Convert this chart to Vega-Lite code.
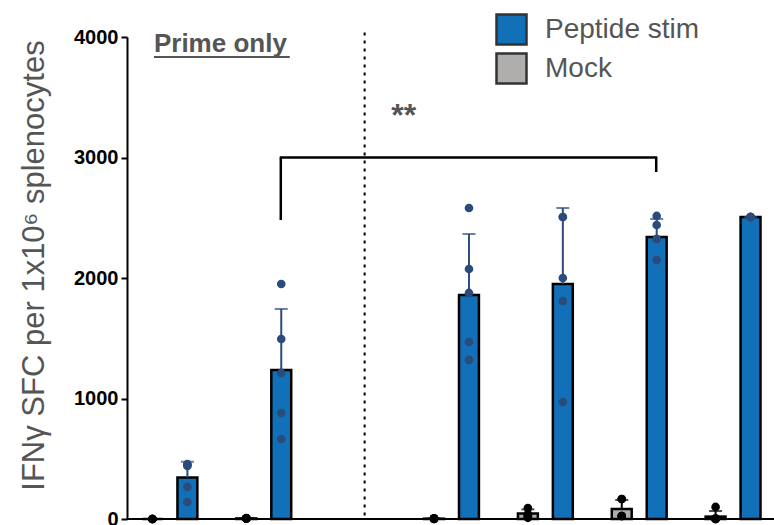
{
  "$schema": "https://vega.github.io/schema/vega-lite/v6.json",
  "width": 647,
  "height": 482,
  "autosize": {"type": "none"},
  "padding": {"left": 127, "top": 37, "right": 0, "bottom": 6},
  "config": {"view": {"stroke": null}, "font": "Liberation Sans"},
  "datasets": {
    "bars": [
      {"group": "G1", "stim": "Mock", "mean": 0, "hi": 0},
      {"group": "G1", "stim": "Peptide stim", "mean": 345, "hi": 475},
      {"group": "G2", "stim": "Mock", "mean": 5, "hi": 8},
      {"group": "G2", "stim": "Peptide stim", "mean": 1236, "hi": 1743},
      {"group": "G3", "stim": "Mock", "mean": 3, "hi": 6},
      {"group": "G3", "stim": "Peptide stim", "mean": 1859, "hi": 2365},
      {"group": "G4", "stim": "Mock", "mean": 45, "hi": 80},
      {"group": "G4", "stim": "Peptide stim", "mean": 1950, "hi": 2581},
      {"group": "G5", "stim": "Mock", "mean": 83, "hi": 158},
      {"group": "G5", "stim": "Peptide stim", "mean": 2340, "hi": 2490},
      {"group": "G6", "stim": "Mock", "mean": 20, "hi": 66},
      {"group": "G6", "stim": "Peptide stim", "mean": 2506, "hi": 2506}
    ],
    "points": [
      {"group": "G1", "stim": "Mock", "value": 0},
      {"group": "G1", "stim": "Mock", "value": 0},
      {"group": "G1", "stim": "Mock", "value": 0},
      {"group": "G1", "stim": "Mock", "value": 0},
      {"group": "G1", "stim": "Mock", "value": 0},
      {"group": "G1", "stim": "Peptide stim", "value": 455},
      {"group": "G1", "stim": "Peptide stim", "value": 450},
      {"group": "G1", "stim": "Peptide stim", "value": 440},
      {"group": "G1", "stim": "Peptide stim", "value": 266},
      {"group": "G1", "stim": "Peptide stim", "value": 141},
      {"group": "G2", "stim": "Mock", "value": 5},
      {"group": "G2", "stim": "Mock", "value": 5},
      {"group": "G2", "stim": "Mock", "value": 8},
      {"group": "G2", "stim": "Mock", "value": 3},
      {"group": "G2", "stim": "Mock", "value": 4},
      {"group": "G2", "stim": "Peptide stim", "value": 1950},
      {"group": "G2", "stim": "Peptide stim", "value": 1494},
      {"group": "G2", "stim": "Peptide stim", "value": 1212},
      {"group": "G2", "stim": "Peptide stim", "value": 880},
      {"group": "G2", "stim": "Peptide stim", "value": 664},
      {"group": "G3", "stim": "Mock", "value": 0},
      {"group": "G3", "stim": "Mock", "value": 5},
      {"group": "G3", "stim": "Mock", "value": 5},
      {"group": "G3", "stim": "Mock", "value": 0},
      {"group": "G3", "stim": "Mock", "value": 3},
      {"group": "G3", "stim": "Peptide stim", "value": 2581},
      {"group": "G3", "stim": "Peptide stim", "value": 2075},
      {"group": "G3", "stim": "Peptide stim", "value": 1876},
      {"group": "G3", "stim": "Peptide stim", "value": 1469},
      {"group": "G3", "stim": "Peptide stim", "value": 1320},
      {"group": "G4", "stim": "Mock", "value": 91},
      {"group": "G4", "stim": "Mock", "value": 40},
      {"group": "G4", "stim": "Mock", "value": 30},
      {"group": "G4", "stim": "Mock", "value": 20},
      {"group": "G4", "stim": "Mock", "value": 10},
      {"group": "G4", "stim": "Peptide stim", "value": 2506},
      {"group": "G4", "stim": "Peptide stim", "value": 2506},
      {"group": "G4", "stim": "Peptide stim", "value": 2000},
      {"group": "G4", "stim": "Peptide stim", "value": 1809},
      {"group": "G4", "stim": "Peptide stim", "value": 971},
      {"group": "G5", "stim": "Mock", "value": 166},
      {"group": "G5", "stim": "Mock", "value": 166},
      {"group": "G5", "stim": "Mock", "value": 25},
      {"group": "G5", "stim": "Mock", "value": 25},
      {"group": "G5", "stim": "Mock", "value": 25},
      {"group": "G5", "stim": "Peptide stim", "value": 2515},
      {"group": "G5", "stim": "Peptide stim", "value": 2440},
      {"group": "G5", "stim": "Peptide stim", "value": 2324},
      {"group": "G5", "stim": "Peptide stim", "value": 2324},
      {"group": "G5", "stim": "Peptide stim", "value": 2149},
      {"group": "G6", "stim": "Mock", "value": 100},
      {"group": "G6", "stim": "Mock", "value": 5},
      {"group": "G6", "stim": "Mock", "value": 0},
      {"group": "G6", "stim": "Mock", "value": 0},
      {"group": "G6", "stim": "Mock", "value": 0},
      {"group": "G6", "stim": "Peptide stim", "value": 2506},
      {"group": "G6", "stim": "Peptide stim", "value": 2506},
      {"group": "G6", "stim": "Peptide stim", "value": 2506},
      {"group": "G6", "stim": "Peptide stim", "value": 2506},
      {"group": "G6", "stim": "Peptide stim", "value": 2506}
    ]
  },
  "layer": [
    {
      "data": {"name": "bars"},
      "mark": {"type": "bar", "stroke": "black", "strokeWidth": 2.5, "opacity": 1},
      "encoding": {
        "x": {"field": "group", "type": "nominal", "scale": {"domain": ["G1", "G2", "gap", "G3", "G4", "G5", "G6"], "range": [-4, 653], "paddingInner": 0, "paddingOuter": 0}, "axis": null},
        "xOffset": {"field": "stim", "type": "nominal", "scale": {"domain": ["Mock", "Peptide stim"], "paddingInner": 0.43, "paddingOuter": 0.558}},
        "y": {"field": "mean", "type": "quantitative", "scale": {"domain": [0, 4000], "nice": false, "zero": true},
          "axis": {"values": [0, 1000, 2000, 3000, 4000], "format": "d", "labelFontSize": 20, "labelFontWeight": "bold", "labelColor": "black", "labelFont": "Liberation Sans", "tickSize": 6, "tickWidth": 2, "tickColor": "black", "domainColor": "black", "domainWidth": 2, "labelPadding": 3, "grid": false, "title": "IFNγ SFC per 1x10⁶ splenocytes", "titleFontSize": 31, "titleFontWeight": "normal", "titleColor": "#555555", "titleFont": "Liberation Sans", "titleAngle": -90, "titleX": -84, "titleY": 228, "titleAlign": "center", "titleBaseline": "alphabetic"}},
        "color": {"field": "stim", "type": "nominal", "scale": {"domain": ["Peptide stim", "Mock"], "range": ["#1170B7", "#B0ADAD"]},
          "legend": {"title": null, "orient": "none", "legendX": 368, "legendY": -24, "symbolType": "square", "symbolSize": 900, "symbolStrokeWidth": 2.5, "symbolStrokeColor": "#333333", "symbolOpacity": 1, "labelFontSize": 28, "labelFont": "Liberation Sans", "labelColor": "#555555", "labelOffset": 17, "rowPadding": -2, "padding": 0, "offset": 0}}
      }
    },
    {
      "data": {"name": "bars"},
      "mark": {"type": "rule", "strokeWidth": 2},
      "encoding": {
        "x": {"field": "group", "type": "nominal"},
        "xOffset": {"field": "stim", "type": "nominal"},
        "y": {"field": "mean", "type": "quantitative"},
        "y2": {"field": "hi"},
        "color": {"condition": {"test": "datum.stim === 'Mock'", "value": "black"}, "value": "#2B4B7C"}
      }
    },
    {
      "data": {"name": "bars"},
      "mark": {"type": "tick", "orient": "horizontal", "size": 13, "thickness": 2},
      "encoding": {
        "x": {"field": "group", "type": "nominal"},
        "xOffset": {"field": "stim", "type": "nominal"},
        "y": {"field": "hi", "type": "quantitative"},
        "color": {"condition": {"test": "datum.stim === 'Mock'", "value": "black"}, "value": "#2B4B7C"}
      }
    },
    {
      "data": {"name": "points"},
      "mark": {"type": "point", "shape": "circle", "filled": true, "size": 75, "opacity": 1},
      "encoding": {
        "x": {"field": "group", "type": "nominal"},
        "xOffset": {"field": "stim", "type": "nominal"},
        "y": {"field": "value", "type": "quantitative"},
        "color": {"condition": {"test": "datum.stim === 'Mock'", "value": "black"}, "value": "#2B4B7C"}
      }
    },
    {
      "data": {"values": [{"v": 0}]},
      "mark": {"type": "rule", "strokeWidth": 2, "color": "black"},
      "encoding": {"y": {"field": "v", "type": "quantitative"}}
    },
    {
      "data": {"values": [{"group": "gap", "lo": 30, "top": 4040}]},
      "mark": {"type": "rule", "strokeWidth": 2, "color": "black", "strokeDash": [3, 5], "xOffset": 7},
      "encoding": {
        "x": {"field": "group", "type": "nominal"},
        "y": {"field": "lo", "type": "quantitative"},
        "y2": {"field": "top"}
      }
    },
    {
      "data": {"values": [{"group": "G2", "lo": 2481, "top": 3000}, {"group": "G5", "lo": 2880, "top": 3000}]},
      "mark": {"type": "rule", "strokeWidth": 2.5, "color": "black", "xOffset": 17},
      "encoding": {
        "x": {"field": "group", "type": "nominal"},
        "y": {"field": "lo", "type": "quantitative"},
        "y2": {"field": "top"}
      }
    },
    {
      "data": {"values": [{"from": "G2", "to": "G5", "v": 3000}]},
      "mark": {"type": "rule", "strokeWidth": 2.5, "color": "black", "xOffset": 16, "x2Offset": 18},
      "encoding": {
        "x": {"field": "from", "type": "nominal"},
        "x2": {"field": "to"},
        "y": {"field": "v", "type": "quantitative"}
      }
    },
    {
      "data": {"values": [{"group": "G1", "v": 3876, "label": "Prime only"}]},
      "mark": {"type": "text", "align": "left", "baseline": "alphabetic", "dx": -16, "fontSize": 26, "fontWeight": "bold", "color": "#555555", "font": "Liberation Sans"},
      "encoding": {
        "x": {"field": "group", "type": "nominal"},
        "y": {"field": "v", "type": "quantitative"},
        "text": {"field": "label"}
      }
    },
    {
      "data": {"values": [{"from": "G1", "to": "G2", "v": 3834}]},
      "mark": {"type": "rule", "strokeWidth": 2, "color": "#555555", "xOffset": -16, "x2Offset": 26},
      "encoding": {
        "x": {"field": "from", "type": "nominal"},
        "x2": {"field": "to"},
        "y": {"field": "v", "type": "quantitative"}
      }
    },
    {
      "data": {"values": [{"group": "gap", "v": 3261, "label": "**"}]},
      "mark": {"type": "text", "align": "center", "baseline": "alphabetic", "dx": 46, "fontSize": 32, "fontWeight": "bold", "color": "#555555", "font": "Liberation Sans"},
      "encoding": {
        "x": {"field": "group", "type": "nominal"},
        "y": {"field": "v", "type": "quantitative"},
        "text": {"field": "label"}
      }
    }
  ]
}
